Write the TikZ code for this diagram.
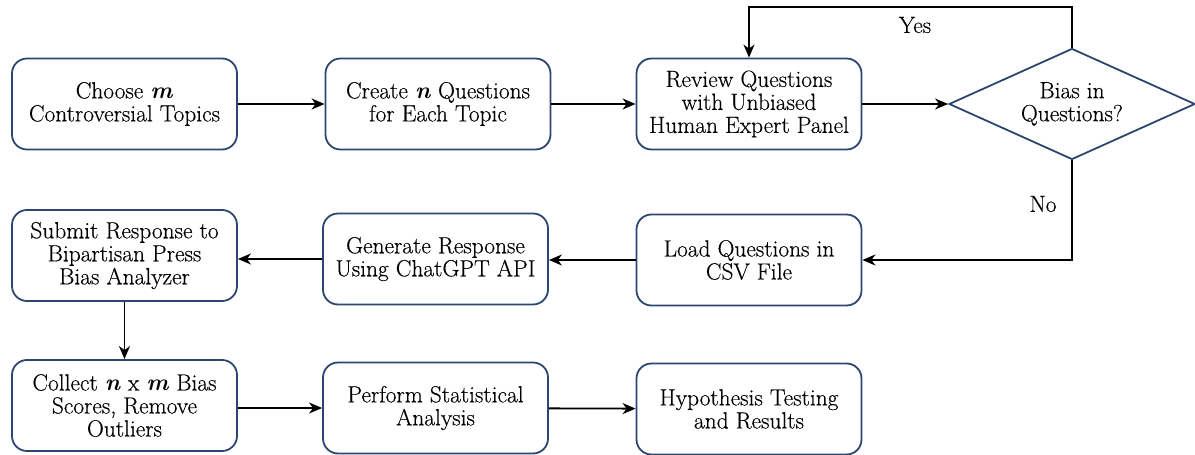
\documentclass[tikz,border=0pt]{standalone}
\usepackage{fontspec}
\setmainfont{Latin Modern Roman}[UprightFeatures={FakeBold=0.35}]
\usetikzlibrary{shapes.geometric,arrows.meta}
\definecolor{boxc}{HTML}{2D4670}
\begin{document}
\begin{tikzpicture}[x=1pt,y=-1pt,
  txt/.style={font=\fontsize{23.4}{23}\selectfont},
  box/.style={txt, draw=boxc, line width=1.8pt, rounded corners=15pt, align=center, inner sep=0pt, minimum width=225pt, minimum height=91pt},
  dec/.style={txt, draw=boxc, line width=1.8pt, diamond, aspect=2.2, minimum width=246pt, minimum height=111pt, inner sep=0pt, align=center},
  conn/.style={line width=1.8pt, -{Stealth[length=13pt,width=11pt,inset=4pt]}},
  lbl/.style={txt}]
\useasboundingbox (0,0) rectangle (1195,455);
\node[box] (choose) at (124.5,104) {Choose \textit{\textbf{m}}\\Controversial Topics};
\node[box] (create) at (438,104) {Create \textit{\textbf{n}} Questions\\for Each Topic};
\node[box] (review) at (749,104) {Review Questions\\with Unbiased\\Human Expert Panel};
\node[dec] (bias) at (1072,104) {Bias in\\Questions?};
\node[box] (load) at (749,260) {Load Questions in\\CSV File};
\node[box] (generate) at (435.5,259) {Generate Response\\Using ChatGPT API};
\node[box] (submit) at (124.5,255.5) {Submit Response to\\Bipartisan Press\\Bias Analyzer};
\node[box] (collect) at (124.5,405.5) {Collect \textit{\textbf{n}} x \textit{\textbf{m}} Bias\\Scores, Remove\\Outliers};
\node[box] (perform) at (435.5,408) {Perform Statistical\\Analysis};
\node[box] (hyp) at (749,409) {Hypothesis Testing\\and Results};
\coordinate (looptop) at (0,7);
\node[lbl] (yes) at (915,25) {Yes};
\node[lbl] (no) at (1043,204) {No};
\draw[conn] (choose) -- (create);
\draw[conn] (create) -- (review);
\draw[conn] (review) -- (bias);
\draw[conn] (bias.north) -- (bias.north |- looptop) -| (review.north);
\draw[conn] (bias.south) |- (load.east);
\draw[conn] (load.west) -- (load.west -| generate.east);
\draw[conn] (generate.west) -- (generate.west -| submit.east);
\draw[conn] (submit) -- (collect);
\draw[conn] (perform.west -| collect.east) -- (perform.west);
\draw[conn] (perform) -- (hyp);
\end{tikzpicture}
\end{document}
